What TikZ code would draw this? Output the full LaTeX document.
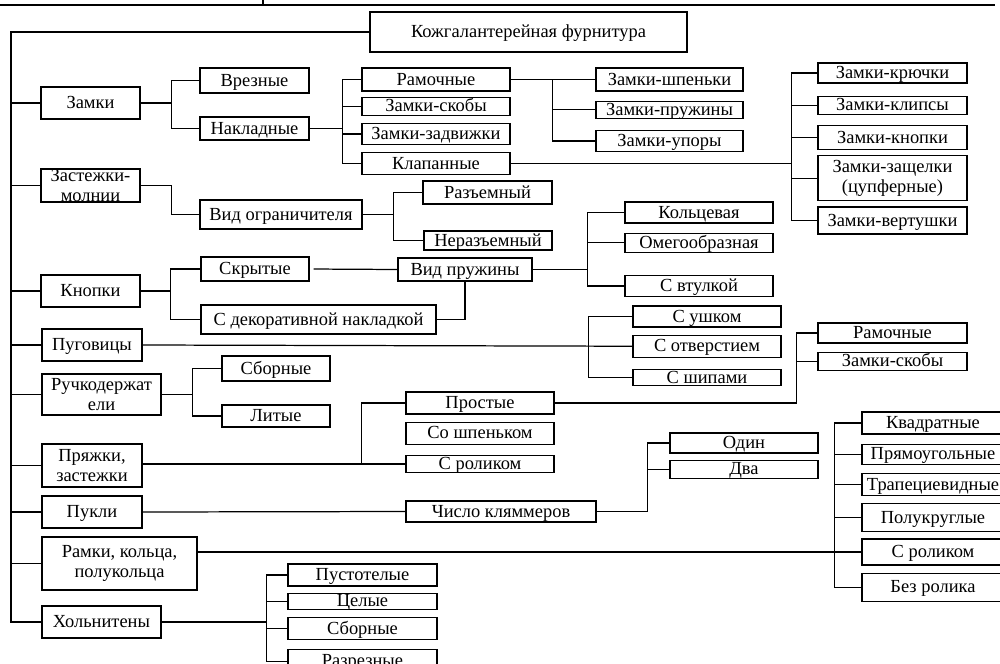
\documentclass[tikz,border=0pt]{standalone}
\usepackage{fontspec}
\setmainfont{Liberation Serif}
\usetikzlibrary{positioning}
\newcommand{\cellfont}[0]{\fontsize{10.5}{11.5}\selectfont}
\newcommand{\cellline}[0]{0.7pt}
\tikzset{
    cell/.style={rectangle, draw=black, line width=\cellline, fill=white, inner sep=0pt, font=\cellfont},
    box/.style={cell, text height=7pt, text depth=0.5pt},
    box2/.style={cell, align=center},
    link/.style={draw=black, line width=\cellline},
}

\begin{document}
\begin{tikzpicture}[x=0.02cm, y=-0.02cm]
    \useasboundingbox (0,0) rectangle (1000,663);
    \clip (0,0) rectangle (1000,663);
    % rule of the table above
    \draw[link] (0,5) -- (995,5);
    \draw[link] (263,0) -- (263,5);

    \node[box, minimum width=6.34cm, minimum height=0.8cm] (root) at (528.5,32) {Кожгалантерейная фурнитура};

    % first level
    \node[box, minimum width=1.98cm, minimum height=0.64cm] (zamki) at (90.5,103) {Замки};
    \node[cell, minimum width=1.98cm, minimum height=0.66cm,
        path picture={\node[align=center, font=\cellfont] (zip-text) at (path picture bounding box.center) {Застежки-\\молнии};}]
        (zip) at (90.5,185.5) {};
    \node[box, minimum width=1.98cm, minimum height=0.64cm] (knopki) at (90.5,291) {Кнопки};
    \node[box, minimum width=2cm, minimum height=0.64cm] (pugovicy) at (92,345) {Пуговицы};
    \node[box2, minimum width=2.38cm, minimum height=0.82cm] (ruchk) at (101.5,394.5) {Ручкодержат\\ели};
    \node[box2, minimum width=2cm, minimum height=0.86cm] (pryazhki) at (92,465.5) {Пряжки,\\застежки};
    \node[box, minimum width=2cm, minimum height=0.64cm] (pukli) at (92,512) {Пукли};
    \node[box2, minimum width=3.1cm, minimum height=1.06cm] (ramki) at (119.5,563.5) {Рамки, кольца,\\полукольца};
    \node[box, minimum width=2.38cm, minimum height=0.64cm] (holniteny) at (101.5,622) {Хольнитены};

    % locks
    \node[box, minimum width=2.18cm, minimum height=0.5cm] (vreznye) at (254.5,80.5) {Врезные};
    \node[box, minimum width=2.18cm, minimum height=0.46cm] (nakladnye) at (254.5,128.5) {Накладные};
    \node[box, minimum width=2.96cm, minimum height=0.46cm] (ramochnye) at (436,79.5) {Рамочные};
    \node[box, minimum width=2.96cm, minimum height=0.36cm, below=0.1cm of ramochnye] (skoby) {Замки-скобы};
    \node[box, minimum width=2.96cm, minimum height=0.42cm, below=0.14cm of skoby] (zadvizhki) {Замки-задвижки};
    \node[box, minimum width=2.96cm, minimum height=0.44cm, below=0.14cm of zadvizhki] (klapannye) {Клапанные};
    \node[box, minimum width=2.94cm, minimum height=0.46cm] (shpenki) at (669.5,79.5) {Замки-шпеньки};
    \node[box, minimum width=2.94cm, minimum height=0.34cm, below=0.18cm of shpenki] (pruzhiny) {Замки-пружины};
    \node[box, minimum width=2.94cm, minimum height=0.42cm, below=0.22cm of pruzhiny] (upory) {Замки-упоры};
    \node[box, minimum width=2.98cm, minimum height=0.4cm] (kryuchki) at (892.5,73) {Замки-крючки};
    \node[box, minimum width=2.98cm, minimum height=0.36cm, below=0.24cm of kryuchki] (klipsy) {Замки-клипсы};
    \node[box, minimum width=2.98cm, minimum height=0.48cm, below=0.2cm of klipsy] (zknopki) {Замки-кнопки};
    \node[box2, minimum width=2.98cm, minimum height=0.9cm, below=0.1cm of zknopki] (zashchelki) {Замки-защелки\\(цупферные)};
    \node[box, minimum width=2.98cm, minimum height=0.54cm, below=0.1cm of zashchelki] (vertushki) {Замки-вертушки};

    % zippers
    \node[box, minimum width=3.24cm, minimum height=0.58cm] (vid_ogr) at (281,214.5) {Вид ограничителя};
    \node[box, minimum width=2.58cm, minimum height=0.46cm] (razemnyj) at (487.5,192.5) {Разъемный};
    \node[box, minimum width=2.56cm, minimum height=0.38cm] (nerazemnyj) at (488,240.5) {Неразъемный};

    % snaps
    \node[box, minimum width=2.16cm, minimum height=0.48cm] (skrytye) at (255,269) {Скрытые};
    \node[box, minimum width=4.7cm, minimum height=0.58cm] (dekor) at (318.5,319.5) {С декоративной накладкой};
    \node[box, minimum width=2.68cm, minimum height=0.46cm] (vid_pruzh) at (465,269.5) {Вид пружины};
    \node[box, minimum width=2.96cm, minimum height=0.42cm] (kolcevaya) at (699,212.5) {Кольцевая};
    \node[box, minimum width=2.96cm, minimum height=0.38cm, below=0.18cm of kolcevaya] (omega) {Омегообразная};
    \node[box, minimum width=2.96cm, minimum height=0.42cm, below=0.44cm of omega] (vtulka) {С втулкой};

    % buttons
    \node[box, minimum width=2.96cm, minimum height=0.42cm] (ushko) at (707,316.5) {С ушком};
    \node[box, minimum width=2.96cm, minimum height=0.44cm, below=0.14cm of ushko] (otverstie) {С отверстием};
    \node[box, minimum width=2.96cm, minimum height=0.32cm, below=0.22cm of otverstie] (shipy) {С шипами};

    % handle holders
    \node[box, minimum width=2.16cm, minimum height=0.5cm] (sbornye) at (276,368.5) {Сборные};
    \node[box, minimum width=2.16cm, minimum height=0.44cm] (litye) at (276,416) {Литые};

    % buckles
    \node[box, minimum width=2.96cm, minimum height=0.44cm] (prostye) at (480,403) {Простые};
    \node[box, minimum width=2.96cm, minimum height=0.44cm, below=0.14cm of prostye] (so_shpenkom) {Со шпеньком};
    \node[box, minimum width=2.96cm, minimum height=0.34cm, below=0.2cm of so_shpenkom] (s_rolikom) {С роликом};
    \node[box, minimum width=2.98cm, minimum height=0.4cm] (ramochnye2) at (892.5,333) {Рамочные};
    \node[box, minimum width=2.98cm, minimum height=0.36cm, below=0.16cm of ramochnye2] (skoby2) {Замки-скобы};

    % bosses
    \node[box, minimum width=3.8cm, minimum height=0.42cm] (chislo) at (501,511.5) {Число кляммеров};
    \node[box, minimum width=2.96cm, minimum height=0.4cm] (odin) at (744,443) {Один};
    \node[box, minimum width=2.96cm, minimum height=0.36cm, below=0.12cm of odin] (dva) {Два};

    % frames, rings
    \node[box, minimum width=2.84cm, minimum height=0.44cm] (kvadratnye) at (933,423) {Квадратные};
    \node[box, minimum width=2.84cm, minimum height=0.4cm, below=0.18cm of kvadratnye] (pryamoug) {Прямоугольные};
    \node[box, minimum width=2.84cm, minimum height=0.44cm, below=0.16cm of pryamoug] (trapec) {Трапециевидные};
    \node[box, minimum width=2.84cm, minimum height=0.56cm, below=0.14cm of trapec] (polukrug) {Полукруглые};
    \node[box, minimum width=2.84cm, minimum height=0.52cm, below=0.12cm of polukrug] (s_rolikom2) {С роликом};
    \node[box, minimum width=2.84cm, minimum height=0.56cm, below=0.14cm of s_rolikom2] (bez_rolika) {Без ролика};

    % eyelets
    \node[box, minimum width=2.98cm, minimum height=0.44cm] (pustotelye) at (362.5,575) {Пустотелые};
    \node[box, minimum width=2.98cm, minimum height=0.32cm, below=0.12cm of pustotelye] (celye) {Целые};
    \node[box, minimum width=2.98cm, minimum height=0.44cm, below=0.14cm of celye] (sbornye2) {Сборные};
    \node[box, minimum width=2.98cm, minimum height=0.46cm, below=0.18cm of sbornye2] (razreznye) {Разрезные};

    % trunk
    \draw[link] (root.west) -- (11,32) coordinate (trunk) |- (holniteny.west);
    \draw[link] (trunk |- zamki.west) -- (zamki.west);
    \draw[link] (trunk |- zip.west) -- (zip.west);
    \draw[link] (trunk |- knopki.west) -- (knopki.west);
    \draw[link] (trunk |- pugovicy.west) -- (pugovicy.west);
    \draw[link] (trunk |- ruchk.west) -- (ruchk.west);
    \draw[link] (trunk |- pryazhki.west) -- (pryazhki.west);
    \draw[link] (trunk |- pukli.west) -- (pukli.west);
    \draw[link] (trunk |- ramki.west) -- (ramki.west);

    % locks
    \draw[link] (zamki.east) -- ++(31,0) coordinate (zamki-bus);
    \draw[link] (vreznye.west) -| (zamki-bus) |- (nakladnye.west);
    \draw[link] (nakladnye.east) -- ++(33,0) coordinate (nakl-bus);
    \draw[link] (ramochnye.west) -| (nakl-bus) |- (klapannye.west);
    \draw[link] (nakl-bus |- skoby.west) -- (skoby.west);
    \draw[link] (nakl-bus |- zadvizhki.west) -- (zadvizhki.west);
    \draw[link] (ramochnye.east) -- ++(42,0) coordinate (ram-bus);
    \draw[link] (shpenki.west) -| (ram-bus) |- (upory.west);
    \draw[link] (ram-bus |- pruzhiny.west) -- (pruzhiny.west);
    \draw[link] (kryuchki.west) -- ++(-26,0) coordinate (klap-bus) |- (vertushki.west);
    \draw[link] (klap-bus |- klipsy.west) -- (klipsy.west);
    \draw[link] (klap-bus |- zknopki.west) -- (zknopki.west);
    \draw[link] (klap-bus |- zashchelki.west) -- (zashchelki.west);
    \draw[link] (klapannye.east) -- (klap-bus |- klapannye.east);

    % zippers
    \draw[link] (zip.east) -- ++(31,0) |- (vid_ogr.west);
    \draw[link] (vid_ogr.east) -- ++(31,0) coordinate (ogr-bus);
    \draw[link] (razemnyj.west) -| (ogr-bus) |- (nerazemnyj.west);

    % snaps
    \draw[link] (knopki.east) -- ++(30,0) coordinate (knopki-bus);
    \draw[link] (skrytye.west) -| (knopki-bus) |- (dekor.west);
    \draw[link, shorten <=0.08cm] (skrytye.east) -- (vid_pruzh.west);
    \draw[link] (dekor.east) -| (vid_pruzh.south);
    \draw[link] (kolcevaya.west) -- ++(-37,0) coordinate (pruzh-bus) |- (vtulka.west);
    \draw[link] (pruzh-bus |- omega.west) -- (omega.west);
    \draw[link] (vid_pruzh.east) -- (pruzh-bus |- vid_pruzh.east);

    % buttons
    \draw[link] (ushko.west) -- ++(-44,0) coordinate (pug-bus) |- (shipy.west);
    \draw[link] (pugovicy.east) -- (otverstie.west);

    % handle holders
    \draw[link] (ruchk.east) -- ++(31,0) coordinate (ruchk-bus);
    \draw[link] (sbornye.west) -| (ruchk-bus) |- (litye.west);

    % buckles
    \draw[link] (prostye.west) -- ++(-44,0) coordinate (pryazh-bus) |- (s_rolikom.west);
    \draw[link] (pryazhki.east |- s_rolikom.west) -- (pryazh-bus |- s_rolikom.west);
    \draw[link] (ramochnye2.west) -- ++(-21,0) coordinate (prost-bus) |- (prostye.east);
    \draw[link] (prost-bus |- skoby2.west) -- (skoby2.west);

    % bosses
    \draw[link] (pukli.east) -- (chislo.west);
    \draw[link] (odin.west) -- ++(-22,0) coordinate (chislo-bus) |- (chislo.east);
    \draw[link] (chislo-bus |- dva.west) -- (dva.west);

    % frames, rings
    \draw[link] (kvadratnye.west) -- ++(-27,0) coordinate (ramki-bus) |- (bez_rolika.west);
    \draw[link] (ramki-bus |- pryamoug.west) -- (pryamoug.west);
    \draw[link] (ramki-bus |- trapec.west) -- (trapec.west);
    \draw[link] (ramki-bus |- polukrug.west) -- (polukrug.west);
    \draw[link] (ramki-bus |- s_rolikom2.west) -- (s_rolikom2.west);
    \draw[link] (ramki.east |- s_rolikom2.west) -- (ramki-bus |- s_rolikom2.west);

    % eyelets
    \draw[link] (pustotelye.west) -- ++(-21,0) coordinate (holn-bus) |- (razreznye.west);
    \draw[link] (holn-bus |- celye.west) -- (celye.west);
    \draw[link] (holn-bus |- sbornye2.west) -- (sbornye2.west);
    \draw[link] (holniteny.east) -- (holn-bus |- holniteny.east);
\end{tikzpicture}
\end{document}
